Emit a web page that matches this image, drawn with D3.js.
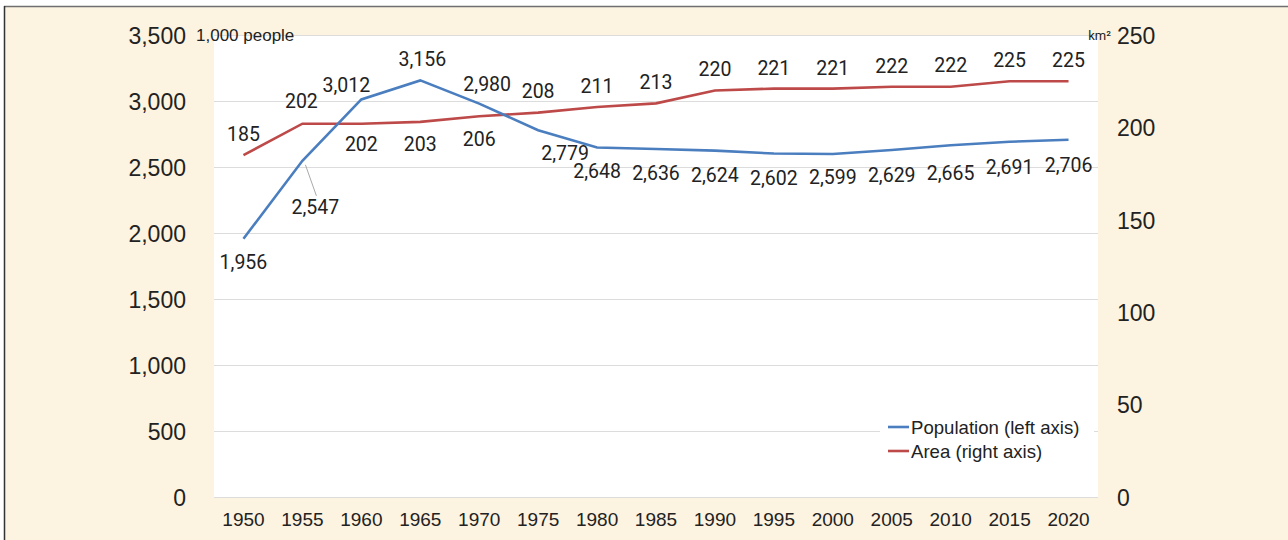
<!DOCTYPE html>
<html><head><meta charset="utf-8">
<script src="https://cdn.jsdelivr.net/npm/d3@7"></script>
<style>
html,body{margin:0;padding:0;background:#fdf3e1;}
svg{display:block;font-family:Roboto,"Noto Sans",sans-serif;}
</style></head><body>
<svg id="c" width="1288" height="540"></svg>
<script>
const years = ["1950","1955","1960","1965","1970","1975","1980","1985","1990","1995","2000","2005","2010","2015","2020"];
const population = [1956,2547,3012,3156,2980,2779,2648,2636,2624,2602,2599,2629,2665,2691,2706];
const area = [185,202,202,203,206,208,211,213,220,221,221,222,222,225,225];
const leftTicks = [0,500,1000,1500,2000,2500,3000,3500];
const rightTicks = [0,50,100,150,200,250];
const seriesNames = ["Population (left axis)","Area (right axis)"];
const leftUnit = "1,000 people";
const rightUnit = "km²";

// label placement offsets (layout only)
const popLabelOff = [[0,23],[13,46],[-15,-14],[2,-21],[8,-20],[27,23],[0,24],[0,24],[0,24],[0,24],[0,23],[0,25],[0,28],[0,25],[0,25]];
const areaLabelOff = [[0,-21],[-1,-23],[0,20],[0,22],[0,23],[0,-22],[0,-21],[0,-21],[0,-21],[0,-21],[0,-21],[0,-21],[0,-22],[0,-21],[0,-21]];

const svg = d3.select("#c");
const W=1288,H=540;
const m={l:214,r:1098,t:35,b:497};
const blue="#4a7ebf", red="#bd4a48", txt="#222";
const sans="'Liberation Sans',Arial,sans-serif";

// frame lines
svg.append("rect").attr("x",0).attr("y",0).attr("width",W).attr("height",H).attr("fill","#fdf3e1");
svg.append("rect").attr("x",0).attr("y",0).attr("width",W).attr("height",6).attr("fill","#fff");
svg.append("rect").attr("x",0).attr("y",0).attr("width",4).attr("height",H).attr("fill","#fff");
svg.append("line").attr("x1",4).attr("x2",W).attr("y1",6.5).attr("y2",6.5).attr("stroke","#707070").attr("stroke-width",1.5);
svg.append("line").attr("x1",4.5).attr("x2",4.5).attr("y1",6).attr("y2",H).attr("stroke","#333").attr("stroke-width",1.5);

svg.append("rect").attr("x",m.l).attr("y",m.t).attr("width",m.r-m.l).attr("height",m.b-m.t).attr("fill","#fff");

const x=d3.scaleBand().domain(years).range([m.l,m.r]);
const cx=d=>x(d)+x.bandwidth()/2;
const yL=d3.scaleLinear().domain([0,3500]).range([m.b,m.t]);
const yR=d3.scaleLinear().domain([0,250]).range([m.b,m.t]);

// gridlines
svg.append("g").selectAll("line").data(leftTicks).join("line")
 .attr("x1",m.l).attr("x2",m.r).attr("y1",d=>Math.round(yL(d))+0.5).attr("y2",d=>Math.round(yL(d))+0.5)
 .attr("stroke","#dcdcdc").attr("stroke-width",1);

// left axis
const ga=svg.append("g").attr("transform",`translate(186,0)`)
 .call(d3.axisLeft(yL).tickValues(leftTicks).tickFormat(d3.format(",")).tickSize(0).tickPadding(0));
ga.select(".domain").remove();
ga.selectAll("text").attr("font-size",23).attr("fill",txt).attr("font-family","inherit").attr("dy","0.36em");

// right axis
const gr=svg.append("g").attr("transform",`translate(1117,0)`)
 .call(d3.axisRight(yR).tickValues(rightTicks).tickSize(0).tickPadding(0));
gr.select(".domain").remove();
gr.selectAll("text").attr("font-size",23).attr("fill",txt).attr("font-family","inherit").attr("dy","0.36em");

// x axis
const gx=svg.append("g").attr("transform",`translate(0,${m.b})`)
 .call(d3.axisBottom(x).tickSize(0).tickPadding(16));
gx.select(".domain").remove();
gx.selectAll("text").attr("font-size",19).attr("fill",txt).attr("font-family","inherit");

// units
svg.append("text").attr("x",196).attr("y",35).attr("dy","0.35em").attr("font-size",17).attr("font-family",sans).attr("fill",txt).text(leftUnit);
svg.append("text").attr("x",1111).attr("y",35).attr("dy","0.35em").attr("font-size",13).attr("text-anchor","end").attr("fill",txt).text(rightUnit);

// lines
const lineL=d3.line().x((d,i)=>cx(years[i])).y(d=>yL(d));
const lineR=d3.line().x((d,i)=>cx(years[i])).y(d=>yR(d));
svg.append("path").attr("d",lineR(area)).attr("fill","none").attr("stroke",red).attr("stroke-width",2.6);
svg.append("path").attr("d",lineL(population)).attr("fill","none").attr("stroke",blue).attr("stroke-width",2.6);

// leader line for 1955 population
svg.append("line").attr("x1",cx(years[1])+3).attr("y1",yL(population[1])+4)
 .attr("x2",cx(years[1])+14).attr("y2",yL(population[1])+35).attr("stroke","#aaa").attr("stroke-width",1);

// data labels
svg.append("g").selectAll("text").data(population).join("text")
 .attr("x",(d,i)=>cx(years[i])+popLabelOff[i][0]).attr("y",(d,i)=>yL(d)+popLabelOff[i][1])
 .attr("dy","0.36em").attr("text-anchor","middle").attr("font-size",19.5).attr("fill",txt)
 .text(d=>d3.format(",")(d));
svg.append("g").selectAll("text").data(area).join("text")
 .attr("x",(d,i)=>cx(years[i])+areaLabelOff[i][0]).attr("y",(d,i)=>yR(d)+areaLabelOff[i][1])
 .attr("dy","0.36em").attr("text-anchor","middle").attr("font-size",19.5).attr("fill",txt)
 .text(d=>d);

// legend
const lg=svg.append("g");
lg.append("rect").attr("x",880).attr("y",412).attr("width",214).attr("height",54).attr("fill","#fff");
[blue,red].forEach((c,i)=>{
  const yy=427+i*24;
  lg.append("line").attr("x1",888).attr("x2",909).attr("y1",yy).attr("y2",yy).attr("stroke",c).attr("stroke-width",2.6);
  lg.append("text").attr("x",911).attr("y",yy).attr("dy","0.36em").attr("font-size",18.6).attr("font-family",sans).attr("fill",txt).text(seriesNames[i]);
});
</script></body></html>
